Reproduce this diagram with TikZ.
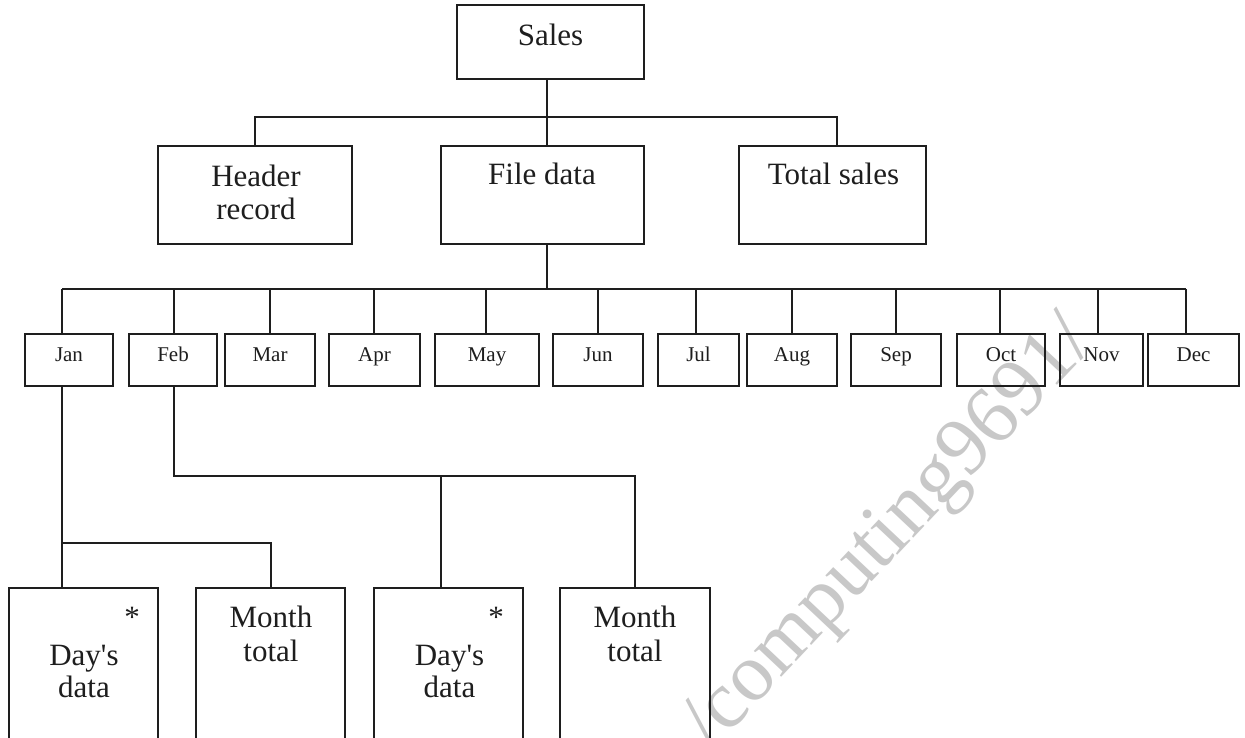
\documentclass[tikz,border=0pt]{standalone}
\usepackage{fontspec}
\setmainfont{Liberation Serif}
\definecolor{ink}{RGB}{30,30,30}
\definecolor{wm}{RGB}{200,200,200}
\begin{document}
\begin{tikzpicture}[x=1pt,y=-1pt,
  box/.style={draw=ink, line width=2pt, rectangle, inner sep=0pt, outer sep=0pt},
  big/.style={font=\fontsize{31}{33}\selectfont, text=ink, inner sep=0pt, anchor=base},
  small/.style={font=\fontsize{21}{24}\selectfont, text=ink, inner sep=0pt, anchor=base},
  link/.style={draw=ink, line width=2pt}]
\useasboundingbox (0,0) rectangle (1245,737);
\fill[white] (0,0) rectangle (1245,737);
\clip (0,0) rectangle (1245,737);

% faint site mark behind the chart
\node[rotate=46.7, text=wm, font=\fontsize{82}{82}\selectfont, anchor=base west, inner sep=0pt]
  (wmark) at (712,752) {/computing9691/};

% level 0 and level 1
\node[box, minimum width=187pt, minimum height=74pt] (sales)  at (550.5,42) {};
\node[box, minimum width=194pt, minimum height=98pt] (header) at (255,195) {};
\node[box, minimum width=203pt, minimum height=98pt] (file)   at (542.5,195) {};
\node[box, minimum width=187pt, minimum height=98pt] (total)  at (832.5,195) {};

\node[big] (sales-t)   at (550.5,45) {Sales};
\node[big] (header-t1) at (256,186) {Header};
\node[big] (header-t2) at (256,219) {record};
\node[big] (file-t)    at (542,184) {File data};
\node[big] (total-t)   at (833.5,184) {Total sales};

\coordinate (b1) at (547,117);
\coordinate (tstem) at (837,117);
\draw[link] (sales.south -| b1) -- (file.north -| b1);
\draw[link] (header.north) |- (tstem) -- (tstem |- total.north);

% month row
\foreach \n/\cx/\w/\sx/\lab in {
  jan/69/88/62/Jan, feb/173/88/174/Feb, mar/270/90/270/Mar,
  apr/374.5/91/374/Apr, may/487/104/486/May, jun/598/90/598/Jun,
  jul/698.5/81/696/Jul, aug/792/90/792/Aug, sep/896/90/896/Sep,
  oct/1001/88/1000/Oct, nov/1101.5/83/1098/Nov, dec/1193.5/91/1186/Dec}{
  \node[box, minimum width=\w pt, minimum height=52pt] (\n) at (\cx,360) {};
  \node[small] (\n-t) at (\cx,361) {\lab};
  \coordinate (\n-s) at (\sx,289);
  \draw[link] (\n-s) -- (\n-s |- \n.north);
}
\coordinate (b2) at (547,289);
\draw[link] (file.south -| b2) -- (b2);
\draw[link] (jan-s) -- (dec-s);

% detail boxes (run past the lower edge)
\node[box, minimum width=149pt, minimum height=192pt] (days1)  at (83.5,684) {};
\node[box, minimum width=149pt, minimum height=192pt] (month1) at (270.5,684) {};
\node[box, minimum width=149pt, minimum height=192pt] (days2)  at (448.5,684) {};
\node[box, minimum width=150pt, minimum height=192pt] (month2) at (635,684) {};

\node[big] (days1-a)  at (132,627) {*};
\node[big] (days1-t1) at (84,665) {Day\textquotesingle s};
\node[big] (days1-t2) at (84,697) {data};
\node[big] (month1-t1) at (271,627) {Month};
\node[big] (month1-t2) at (271,661) {total};
\node[big] (days2-a)  at (496,627) {*};
\node[big] (days2-t1) at (449.5,665) {Day\textquotesingle s};
\node[big] (days2-t2) at (449.5,697) {data};
\node[big] (month2-t1) at (635,627) {Month};
\node[big] (month2-t2) at (635,661) {total};

% Jan branch
\coordinate (j3) at (62,543);
\draw[link] (jan.south -| jan-s) -- (days1.north -| jan-s);
\draw[link] (j3) -| (month1.north);
% Feb branch
\coordinate (f3) at (441,476);
\draw[link] (feb.south -| feb-s) |- (month2.north |- f3) -- (month2.north);
\draw[link] (f3) -- (f3 |- days2.north);
\end{tikzpicture}
\end{document}
